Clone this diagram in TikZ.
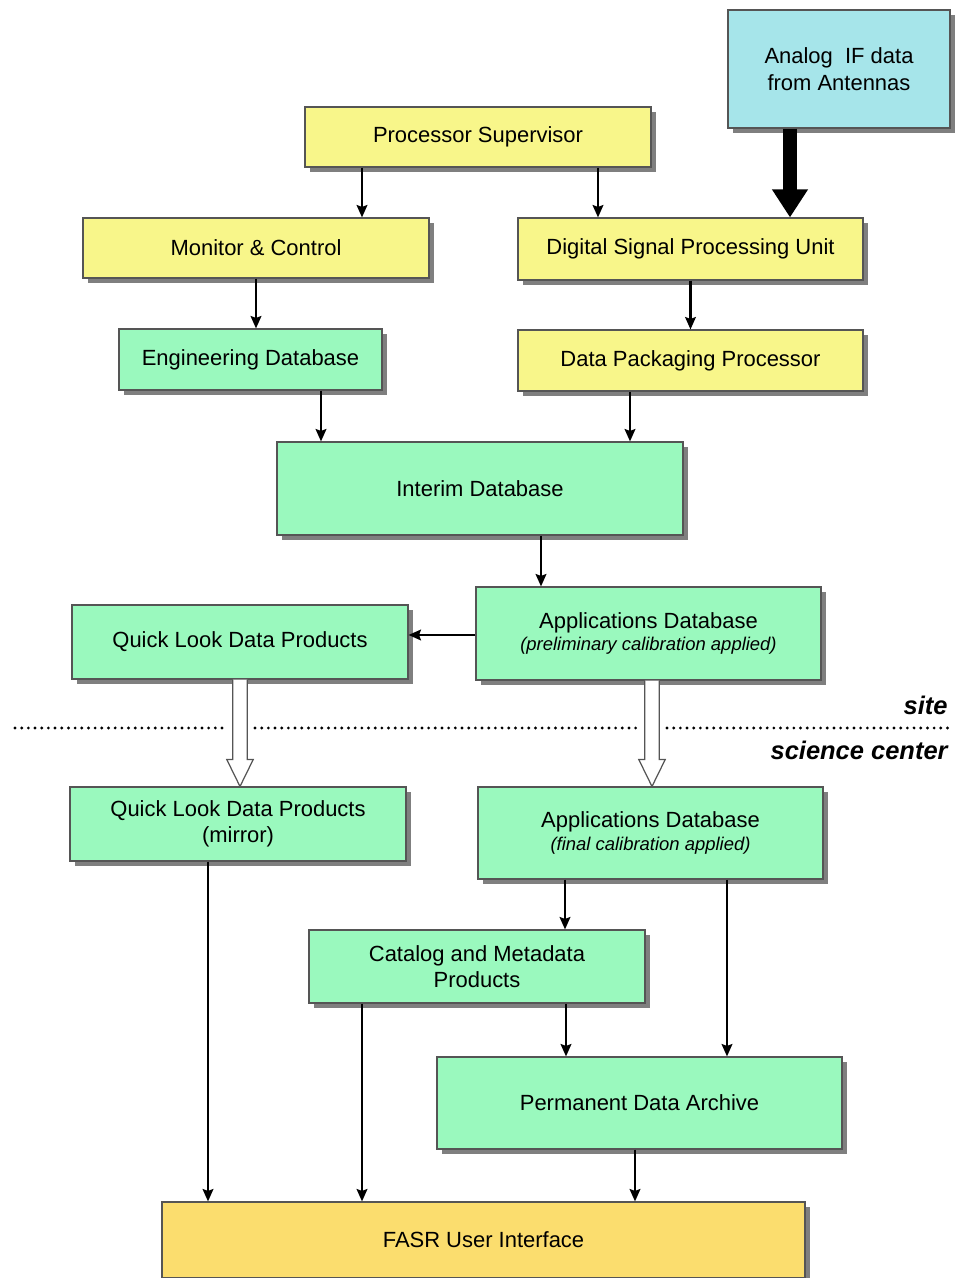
\documentclass[tikz,border=0pt]{standalone}
\usepackage{fontspec}
\setmainfont{Liberation Sans}
\usetikzlibrary{arrows.meta, shadows, calc}
\definecolor{psyellow}{HTML}{F8F68A}
\definecolor{dbgreen}{HTML}{9AF9BE}
\definecolor{ifcyan}{HTML}{A6E5EA}
\definecolor{uigold}{HTML}{FBDD6E}
\definecolor{edgegray}{HTML}{555555}

\begin{document}
\begin{tikzpicture}[
    every node/.style={font=\fontsize{12.5}{15}\selectfont},
    unit/.style={draw=edgegray, line width=0.6pt, fill=#1, align=center, inner sep=2pt,
                 drop shadow={shadow xshift=3pt, shadow yshift=-3pt, fill=black, opacity=0.5}},
    flow/.style={line width=1.6pt, -{Stealth[length=7pt, width=6pt, inset=1pt]}},
    bigflow/.style={line width=8pt, -{Triangle[length=0.56cm, width=0.68cm]}},
    hollow/.style={draw=edgegray, line width=0.7pt, fill=white},
    sitesep/.style={line width=1.8pt, line cap=round, dash pattern=on 0pt off 3.8pt},
    tag/.style={font=\fontsize{14.5}{17}\selectfont\bfseries\itshape, anchor=east, inner sep=0pt},
  ]
  \useasboundingbox (0,0) rectangle (19.18,25.56);

  % site part
  \node[unit=ifcyan, minimum width=4.44cm, minimum height=2.36cm] (ant) at (16.78,24.18)
    {Analog\ \ IF data\\from Antennas};
  \node[unit=psyellow, minimum width=6.92cm, minimum height=1.2cm] (sup) at (9.56,22.82)
    {Processor Supervisor};
  \node[unit=psyellow, minimum width=6.92cm, minimum height=1.2cm] (mc) at (5.12,20.60)
    {Monitor \& Control};
  \node[unit=psyellow, minimum width=6.9cm, minimum height=1.24cm] (dsp) at (13.81,20.58)
    {Digital Signal Processing Unit};
  \node[unit=dbgreen, minimum width=5.26cm, minimum height=1.22cm] (eng) at (5.01,18.37)
    {Engineering Database};
  \node[unit=psyellow, minimum width=6.9cm, minimum height=1.22cm] (dpp) at (13.81,18.35)
    {Data Packaging Processor};
  \node[unit=dbgreen, minimum width=8.12cm, minimum height=1.86cm] (interim) at (9.60,15.79)
    {Interim Database};
  \node[unit=dbgreen, minimum width=6.72cm, minimum height=1.48cm] (ql) at (4.80,12.72)
    {Quick Look Data Products};
  \node[unit=dbgreen, minimum width=6.9cm, minimum height=1.86cm] (app) at (12.97,12.89)
    {Applications Database\\[-2pt]{\fontsize{10.5}{12}\selectfont\itshape (preliminary calibration applied)}};

  \draw[flow] ([xshift=-2.32cm]sup.south) -- ([xshift=-2.32cm]sup.south |- mc.north);
  \draw[flow] ([xshift=2.40cm]sup.south) -- ([xshift=2.40cm]sup.south |- dsp.north);
  \draw[bigflow] ([xshift=-0.98cm]ant.south) -- ([xshift=-0.98cm]ant.south |- dsp.north);
  \draw[flow] (mc.south) -- (mc.south |- eng.north);
  \draw[flow] (dsp.south) -- (dpp.north);
  \draw[flow] ([xshift=1.41cm]eng.south) -- ([xshift=1.41cm]eng.south |- interim.north);
  \draw[flow] ([xshift=-1.21cm]dpp.south) -- ([xshift=-1.21cm]dpp.south |- interim.north);
  \draw[flow] ([xshift=1.22cm]interim.south) -- ([xshift=1.22cm]interim.south |- app.north);
  \draw[flow] ([yshift=-0.03cm]app.west) -- ([yshift=-0.03cm]app.west -| ql.east);

  % border between site and science center
  \draw[sitesep] (0.30,11.0) -- (4.5,11.0);
  \draw[sitesep] (5.1,11.0) -- (12.84,11.0);
  \draw[sitesep] (13.34,11.0) -- (18.96,11.0);
  \node[tag] (site) at (18.96,11.46) {site};
  \node[tag] (scicenter) at (18.96,10.56) {science center};

  % science center part
  \node[unit=dbgreen, minimum width=6.72cm, minimum height=1.48cm] (qlm) at (4.76,9.08)
    {Quick Look Data Products\\(mirror)};
  \node[unit=dbgreen, minimum width=6.9cm, minimum height=1.84cm] (appf) at (13.01,8.90)
    {Applications Database\\[-2pt]{\fontsize{10.5}{12}\selectfont\itshape (final calibration applied)}};
  \node[unit=dbgreen, minimum width=6.72cm, minimum height=1.46cm] (cat) at (9.54,6.23)
    {Catalog and Metadata\\Products};
  \node[unit=dbgreen, minimum width=8.10cm, minimum height=1.84cm] (pda) at (12.79,3.50)
    {Permanent Data Archive};
  \node[unit=uigold, minimum width=12.86cm, minimum height=1.52cm] (fasr) at (9.67,0.76)
    {FASR User Interface};

  \draw[hollow] ($(ql.south)+(-0.145,0)$) -- ($(ql.south |- qlm.north)+(-0.145,0.54)$)
    -- ++(-0.12,0) -- (ql.south |- qlm.north) -- ++(0.265,0.54) -- ++(-0.12,0)
    -- ($(ql.south)+(0.145,0)$);
  \draw[hollow] ($(app.south)+(0.07-0.145,0)$) -- ($(app.south |- appf.north)+(0.07-0.145,0.54)$)
    -- ++(-0.12,0) -- ($(app.south |- appf.north)+(0.07,0)$) -- ++(0.265,0.54) -- ++(-0.12,0)
    -- ($(app.south)+(0.07+0.145,0)$);

  \draw[flow] ([xshift=-1.71cm]appf.south) -- ([xshift=-1.71cm]appf.south |- cat.north);
  \draw[flow] ([xshift=1.53cm]appf.south) -- ([xshift=1.53cm]appf.south |- pda.north);
  \draw[flow] ([xshift=1.78cm]cat.south) -- ([xshift=1.78cm]cat.south |- pda.north);
  \draw[flow] ([xshift=-0.60cm]qlm.south) -- ([xshift=-0.60cm]qlm.south |- fasr.north);
  \draw[flow] ([xshift=-2.30cm]cat.south) -- ([xshift=-2.30cm]cat.south |- fasr.north);
  \draw[flow] ([xshift=-0.09cm]pda.south) -- ([xshift=-0.09cm]pda.south |- fasr.north);
\end{tikzpicture}
\end{document}
